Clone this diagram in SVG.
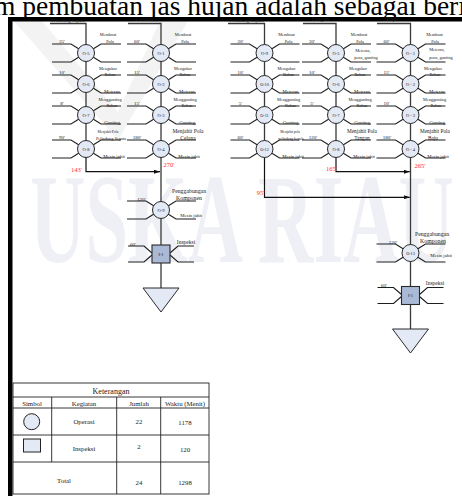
<svg xmlns="http://www.w3.org/2000/svg" width="462" height="496" viewBox="0 0 462 496">
<style>
.t{font-family:"Liberation Serif","Times New Roman",serif;fill:#1a1a1a;text-anchor:middle}
.br{fill:none;stroke:#1e1e1e;stroke-width:1.1}
.vc{fill:none;stroke:#3a3a3a;stroke-width:1.3}
.op{fill:#e3e9f5;stroke:#2a2a2a;stroke-width:1}
.ins{fill:#a9b9d6;stroke:#2a2a2a;stroke-width:1.1}
.tri{fill:#e3e9f5;stroke:#2a2a2a;stroke-width:1}
.tm{font-size:5px}
.ac{font-size:4.3px}
.tl{font-size:4.8px}
.nl{font-size:4.5px}
.big{font-size:5.8px}
.red{font-size:6.5px;fill:#ff2d2d}
.ar{fill:none;stroke:#111;stroke-width:1.2}
.tb{fill:none;stroke:#222;stroke-width:0.9}
.lg{font-size:6.8px}
</style>
<defs>
<g id="bo"><path class="br" d="M-34,-9H-15L-7,-4M-34,9H-15L-7,4M7,-4L15,-9H35M7,4L15,9H35"/></g>
<g id="bi"><path class="br" d="M-33,-8H-17L-9,-1M-33,8H-17L-9,1M9,-1L17,-8H33M9,1L17,8H33"/></g>
<marker id="ah" markerWidth="6" markerHeight="4" refX="6" refY="2" orient="auto" markerUnits="userSpaceOnUse"><path d="M0,0L6,2L0,4z" fill="#111"/></marker>
</defs>

<!-- watermark -->
<g id="watermark">
<polygon points="14,21 42,21 118,112 160,21 188,21 118,140" fill="#f3f3f3"/>
<text x="30" y="262" font-family="Liberation Serif" font-weight="bold" font-size="126" fill="#eff0f6" textLength="424" lengthAdjust="spacingAndGlyphs">USKA RIAU</text>
</g>

<!-- page heading and frame -->
<text x="-6" y="15" font-family="Liberation Serif" font-size="27.5" fill="#000">m pembuatan jas hujan adalah sebagai berikut</text>
<rect x="8" y="17" width="454" height="4.5" fill="#000"/>
<rect x="8" y="17" width="4.5" height="479" fill="#000"/>

<!-- connectors -->
<g id="connectors">
<path class="vc" d="M50,23.5H86V149"/>
<path class="vc" d="M128,23.5H161V288"/>
<path class="vc" d="M228,23.5H264.5V149"/>
<path class="vc" d="M303,23.5H336V149"/>
<path class="vc" d="M377,23.5H410.5V329"/>
<path class="ar" d="M86,149V171.7H160" marker-end="url(#ah)"/>
<path class="ar" d="M336,149V171.7H409.8" marker-end="url(#ah)"/>
<path class="ar" d="M264.5,149V197.3H409.8" marker-end="url(#ah)"/>
<text class="t red" x="76.5" y="172">143'</text>
<text class="t red" x="169" y="167">270'</text>
<text class="t red" x="331.5" y="170.5">165'</text>
<text class="t red" x="420" y="168">265'</text>
<text class="t red" x="260.7" y="195">95'</text>
</g>

<!-- chain titles -->
<g id="titles">
<text class="t tl" x="68" y="21.5">Pelindung Sepatu</text>
<text class="t" style="font-size:6.3px" x="144" y="21">Celana</text>
<text class="t tl" x="246.5" y="21.5">Pelindung Kepala</text>
<text class="t" style="font-size:6.3px" x="320" y="21">Tangan</text>
<text class="t" style="font-size:5.8px" x="392" y="20.5">Baju</text>
</g>

<!-- Chain A: Pelindung Sepatu -->
<g id="A-O5"><use href="#bo" x="86" y="53"/><circle class="op" cx="86" cy="53" r="8.5"/><text class="t nl" x="86" y="54.6">O-5</text>
<text class="t tm" x="62" y="42.5">35'</text><text class="t ac" x="108" y="36">Membuat</text><text class="t ac" x="110" y="43">Pola</text></g>
<g id="A-O6"><use href="#bo" x="86" y="84"/><circle class="op" cx="86" cy="84" r="8.5"/><text class="t nl" x="86" y="85.6">O-6</text>
<text class="t tm" x="62" y="73.5">10'</text><text class="t ac" x="108" y="69.5">Mengukur</text><text class="t ac" x="110" y="76">Bahan</text><text class="t tl" x="112" y="92.5">Meteran</text></g>
<g id="A-O7"><use href="#bo" x="86" y="115"/><circle class="op" cx="86" cy="115" r="8.5"/><text class="t nl" x="86" y="116.6">O-7</text>
<text class="t tm" x="62" y="104.5">8'</text><text class="t ac" x="110" y="100.5">Menggunting</text><text class="t ac" x="112" y="107">Bahan</text><text class="t tl" x="112" y="123.5">Gunting</text></g>
<g id="A-O8"><use href="#bo" x="86" y="149"/><circle class="op" cx="86" cy="149" r="8.5"/><text class="t nl" x="86" y="150.6">O-8</text>
<text class="t tm" x="62" y="138.5">90'</text><text class="t" style="font-size:3.7px" x="108" y="132.5">Menjahit Pola</text><text class="t" style="font-size:4.3px" x="111" y="139.5">Pelindung Sepatu</text><text class="t tl" x="114" y="157.5">Mesin jahit</text></g>

<!-- Chain B: Celana -->
<g id="B-O1"><use href="#bo" x="161" y="53"/><circle class="op" cx="161" cy="53" r="8.5"/><text class="t nl" x="161" y="54.6">O-1</text>
<text class="t tm" x="137" y="42.5">60'</text><text class="t ac" x="183" y="36">Membuat</text><text class="t ac" x="185" y="43">Pola</text></g>
<g id="B-O2"><use href="#bo" x="161" y="84"/><circle class="op" cx="161" cy="84" r="8.5"/><text class="t nl" x="161" y="85.6">O-2</text>
<text class="t tm" x="137" y="73.5">15'</text><text class="t ac" x="183" y="69.5">Mengukur</text><text class="t ac" x="185" y="76">Bahan</text><text class="t tl" x="187" y="92.5">Meteran</text></g>
<g id="B-O3"><use href="#bo" x="161" y="115"/><circle class="op" cx="161" cy="115" r="8.5"/><text class="t nl" x="161" y="116.6">O-3</text>
<text class="t tm" x="137" y="104.5">15'</text><text class="t ac" x="185" y="100.5">Menggunting</text><text class="t ac" x="187" y="107">Bahan</text><text class="t tl" x="187" y="123.5">Gunting</text></g>
<g id="B-O4"><use href="#bo" x="161" y="149"/><circle class="op" cx="161" cy="149" r="8.5"/><text class="t nl" x="161" y="150.6">O-4</text>
<text class="t tm" x="137" y="138.5">180'</text><text class="t" style="font-size:5.5px" x="188" y="132.5">Menjahit Pola</text><text class="t" style="font-size:5.5px" x="188" y="140">Celana</text><text class="t tl" x="189" y="157.5">Mesin jahit</text></g>
<g id="B-O9"><use href="#bo" x="161" y="210"/><circle class="op" cx="161" cy="210" r="8.5"/><text class="t nl" x="161" y="211.6">O-9</text>
<text class="t tm" x="141.5" y="200.5">120'</text><text class="t big" x="189" y="193">Penggabungan</text><text class="t big" x="189" y="200">Komponen</text><text class="t tl" x="191" y="216.5">Mesin jahit</text></g>
<g id="B-I1"><use href="#bi" x="161" y="254"/><rect class="ins" x="152" y="245" width="18" height="18"/><text class="t nl" x="161" y="255.6">I-1</text>
<text class="t tm" x="133" y="245.5">60'</text><text class="t" style="font-size:5.5px" x="186" y="243.5">Inspeksi</text></g>
<g id="B-end"><polygon class="tri" points="143,288 179,288 161,312"/></g>

<!-- Chain C: Pelindung Kepala -->
<g id="C-O9"><use href="#bo" x="264.5" y="53"/><circle class="op" cx="264.5" cy="53" r="8.5"/><text class="t nl" x="264.5" y="54.6">O-9</text>
<text class="t tm" x="240.5" y="42.5">20'</text><text class="t ac" x="286.5" y="36">Membuat</text><text class="t ac" x="288.5" y="43">Pola</text></g>
<g id="C-O10"><use href="#bo" x="264.5" y="84"/><circle class="op" cx="264.5" cy="84" r="8.5"/><text class="t" style="font-size:4.2px" x="264.5" y="85.5">O-10</text>
<text class="t tm" x="240.5" y="73.5">10'</text><text class="t ac" x="286.5" y="69.5">Mengukur</text><text class="t ac" x="288.5" y="76">Bahan</text><text class="t tl" x="290.5" y="92.5">Meteran</text></g>
<g id="C-O11"><use href="#bo" x="264.5" y="115"/><circle class="op" cx="264.5" cy="115" r="8.5"/><text class="t" style="font-size:4.2px" x="264.5" y="116.5">O-11</text>
<text class="t tm" x="240.5" y="104.5">5'</text><text class="t ac" x="288.5" y="100.5">Menggunting</text><text class="t ac" x="290.5" y="107">Bahan</text><text class="t tl" x="290.5" y="123.5">Gunting</text></g>
<g id="C-O12"><use href="#bo" x="264.5" y="149"/><circle class="op" cx="264.5" cy="149" r="8.5"/><text class="t" style="font-size:4.2px" x="264.5" y="150.5">O-12</text>
<text class="t tm" x="240.5" y="138.5">60'</text><text class="t" style="font-size:3.5px" x="290" y="133">Menjahit pola</text><text class="t" style="font-size:3.7px" x="291" y="139.5">pelindung kepala</text><text class="t tl" x="293" y="157.5">Mesin jahit</text></g>

<!-- Chain D: Tangan -->
<g id="D-O5"><use href="#bo" x="336" y="53"/><circle class="op" cx="336" cy="53" r="8.5"/><text class="t nl" x="336" y="54.6">O-5</text>
<text class="t tm" x="312" y="42.5">30'</text><text class="t ac" x="359" y="36">Membuat</text><text class="t ac" x="360" y="43">Pola</text><text class="t ac" x="363" y="51.5">Meteran,</text><text class="t ac" x="366" y="59">pena, gunting</text></g>
<g id="D-O6"><use href="#bo" x="336" y="84"/><circle class="op" cx="336" cy="84" r="8.5"/><text class="t nl" x="336" y="85.6">O-6</text>
<text class="t tm" x="312" y="73.5">10'</text><text class="t ac" x="358" y="69.5">Mengukur</text><text class="t ac" x="360" y="76">Bahan</text><text class="t tl" x="362" y="92.5">Meteran</text></g>
<g id="D-O7"><use href="#bo" x="336" y="115"/><circle class="op" cx="336" cy="115" r="8.5"/><text class="t nl" x="336" y="116.6">O-7</text>
<text class="t tm" x="312" y="104.5">5'</text><text class="t ac" x="360" y="100.5">Menggunting</text><text class="t ac" x="362" y="107">Bahan</text><text class="t tl" x="362" y="123.5">Gunting</text></g>
<g id="D-O8"><use href="#bo" x="336" y="149"/><circle class="op" cx="336" cy="149" r="8.5"/><text class="t nl" x="336" y="150.6">O-8</text>
<text class="t tm" x="313" y="138.5">120'</text><text class="t" style="font-size:5.3px" x="362" y="132.5">Menjahit Pola</text><text class="t" style="font-size:5.3px" x="362" y="140">Tangan</text><text class="t tl" x="364" y="157.5">Mesin jahit</text></g>

<!-- Chain E: Baju -->
<g id="E-O1"><use href="#bo" x="410.5" y="53"/><circle class="op" cx="410.5" cy="53" r="8.5"/><text class="t nl" x="410.5" y="54.6">O - 1</text>
<text class="t tm" x="386.5" y="42.5">60'</text><text class="t ac" x="434.5" y="35.5">Membuat</text><text class="t ac" x="435" y="42.5">Pola</text><text class="t ac" x="437" y="50.5">Meteran,</text><text class="t ac" x="441" y="58.5">pena, gunting</text></g>
<g id="E-O2"><use href="#bo" x="410.5" y="84"/><circle class="op" cx="410.5" cy="84" r="8.5"/><text class="t nl" x="410.5" y="85.6">O - 2</text>
<text class="t tm" x="386.5" y="73.5">15'</text><text class="t ac" x="433" y="69.5">Mengukur</text><text class="t ac" x="435" y="76">Bahan</text><text class="t tl" x="437" y="92.5">Meteran</text></g>
<g id="E-O3"><use href="#bo" x="410.5" y="115"/><circle class="op" cx="410.5" cy="115" r="8.5"/><text class="t nl" x="410.5" y="116.6">O - 3</text>
<text class="t tm" x="386.5" y="104.5">10'</text><text class="t ac" x="434.5" y="100.5">Menggunting</text><text class="t ac" x="436" y="107">Bahan</text><text class="t tl" x="437" y="123.5">Gunting</text></g>
<g id="E-O4"><use href="#bo" x="410.5" y="149"/><circle class="op" cx="410.5" cy="149" r="8.5"/><text class="t nl" x="410.5" y="150.6">O - 4</text>
<text class="t tm" x="387" y="138.5">180'</text><text class="t" style="font-size:5.3px" x="435" y="132.5">Menjahit Pola</text><text class="t" style="font-size:5.3px" x="433" y="140">Baju</text><text class="t tl" x="438" y="157.5">Mesin jahit</text></g>
<g id="E-O13"><use href="#bo" x="410.5" y="253"/><circle class="op" cx="410.5" cy="253" r="8.5"/><text class="t" style="font-size:4.2px" x="410.5" y="254.5">O-13</text>
<text class="t tm" x="393" y="244">120'</text><text class="t big" x="432" y="235.5">Penggabungan</text><text class="t big" x="433" y="242.5">Komponen</text><text class="t tl" x="441" y="256.5">Mesin jahit</text></g>
<g id="E-I1"><use href="#bi" x="410.5" y="295.5"/><rect class="ins" x="401.5" y="286.5" width="18" height="18"/><text class="t nl" x="410.5" y="297.1">I-1</text>
<text class="t tm" x="384" y="287">60'</text><text class="t" style="font-size:5.5px" x="435" y="284.5">Inspeksi</text></g>
<g id="E-end"><polygon class="tri" points="392.5,329 428.5,329 410.5,353"/></g>

<!-- Legend table -->
<g id="legend">
<rect x="13" y="383" width="196" height="111" fill="#fff" class="tb"/>
<path class="tb" d="M13,397H209M13,408H209M13,435H209M13,462H209M51.7,397V462M116.7,397V494M160.7,397V494"/>
<text class="t" style="font-size:8px" x="111" y="393.5">Keterangan</text>
<text class="t lg" x="32" y="405.5">Simbol</text>
<text class="t lg" x="84" y="405.5">Kegiatan</text>
<text class="t lg" x="139" y="405.5">Jumlah</text>
<text class="t lg" x="185" y="405.5">Waktu (Menit)</text>
<circle cx="31.7" cy="421.7" r="8" fill="#e3e9f5" stroke="#222" stroke-width="1"/>
<rect x="23.5" y="439" width="17" height="13" fill="#e3e9f5" stroke="#222" stroke-width="1"/>
<text class="t lg" x="84" y="424">Operasi</text>
<text class="t lg" x="139" y="424">22</text>
<text class="t lg" x="185" y="425">1178</text>
<text class="t lg" x="84" y="451">Inspeksi</text>
<text class="t lg" x="139" y="448.5">2</text>
<text class="t lg" x="185" y="452">120</text>
<text class="t lg" x="64" y="483">Total</text>
<text class="t lg" x="139" y="485">24</text>
<text class="t lg" x="185" y="485">1298</text>
</g>
</svg>
